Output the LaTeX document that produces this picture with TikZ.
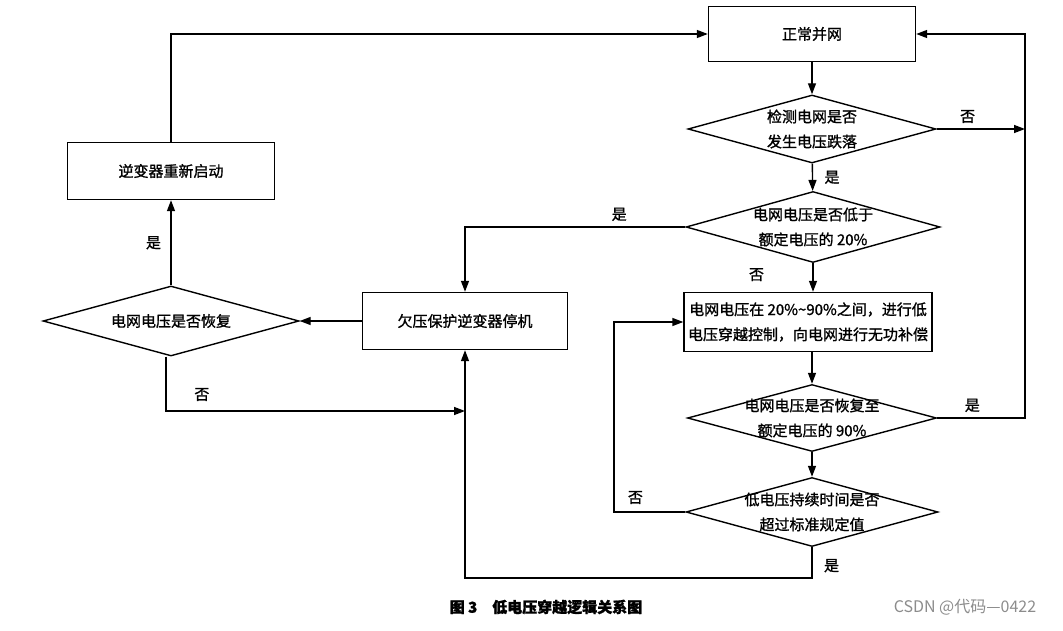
\documentclass[tikz,border=0pt]{standalone}
\usepackage{fontspec}
\newfontfamily\cjk[FakeBold=1.2]{Noto Sans CJK SC}
\usetikzlibrary{shapes.geometric,arrows.meta}

\begin{document}
\begin{tikzpicture}[x=1pt,y=-1pt,
    line width=1.4pt,
    >={Triangle[length=11pt,width=8pt]},
    txt/.style={font=\cjk\fontsize{15}{25}\selectfont, align=center},
    procbox/.style={draw, txt, inner sep=0pt},
    decision/.style={draw, diamond, inner sep=0pt},
    yn/.style={font=\cjk\fontsize{15}{18}\selectfont}]

  \useasboundingbox (0,0) rectangle (1063,631);

  % Right column
  \node[procbox, minimum width=207pt, minimum height=55pt] (ok) at (812,34) {正常并网};
  \node[decision, minimum width=248pt, minimum height=68pt,
        label={[txt]center:检测电网是否\\发生电压跌落}] (det) at (812,129) {};
  \node[decision, minimum width=254pt, minimum height=71pt,
        label={[txt]center:电网电压是否低于\\额定电压的 20\%}] (low) at (813,227) {};
  \node[procbox, minimum width=248pt, minimum height=59pt] (lvrt) at (808,322)
        {电网电压在 20\%\textasciitilde 90\%之间，进行低\\电压穿越控制，向电网进行无功补偿};
  \node[decision, minimum width=249pt, minimum height=67pt,
        label={[txt]center:电网电压是否恢复至\\额定电压的 90\%}] (back) at (812,418) {};
  \node[decision, minimum width=252pt, minimum height=69pt,
        label={[txt]center:低电压持续时间是否\\超过标准规定值}] (dur) at (812,512) {};

  % Left part
  \node[procbox, minimum width=205pt, minimum height=57pt] (stop) at (465,321) {欠压保护逆变器停机};
  \node[decision, minimum width=256pt, minimum height=70pt,
        label={[txt]center:电网电压是否恢复}] (rec) at (171,321) {};
  \node[procbox, minimum width=207pt, minimum height=57pt] (restart) at (171,171) {逆变器重新启动};

  % corner points
  \coordinate (rt) at (1025,34);
  \coordinate (rm) at (1025,129);
  \coordinate (rb) at (1025,418);
  \coordinate (lt) at (171,34);
  \coordinate (st) at (465,227);
  \coordinate (sb) at (465,578);
  \coordinate (db) at (812,578);
  \coordinate (ll) at (614,512);
  \coordinate (lu) at (614,322);
  \coordinate (rl) at (166,411);
  \coordinate (rr) at (465,411);

  % Main flow
  \draw[->] (ok) -- (det);
  \draw[->] (det) -- (low) node[yn, midway, right=8pt] {是};
  \draw[->] (low.south) -- (low.south |- lvrt.north) node[yn, pos=0.4, left=45pt] {否};
  \draw[->] (back.north |- lvrt.south) -- (back.north);
  \draw[->] (back) -- (dur);

  % Back to grid connection
  \draw[->] (det.east) -- (rm) node[yn, pos=0.35, above=2pt] {否};
  \draw[->] (back.east) -- (rb) node[yn, pos=0.4, above=2pt] {是} -- (rt) -- (ok.east);

  % Loop and shutdown
  \draw[->] (dur.west) -- (ll) node[yn, pos=0.7, above=4pt] {否} -- (lu) -- (lvrt.west);
  \draw[->] (dur.south) -- (db) node[yn, pos=0.6, right=8pt] {是} -- (sb) -- (stop.south);
  \draw[->] (low.west) -- (st) node[yn, pos=0.3, above=2pt] {是} -- (stop.north);

  % Restart branch
  \draw[->] (stop.west) -- (rec.east);
  \draw[->] (rec.north) -- (restart.south) node[yn, midway, left=6pt] {是};
  \draw[->] (rec.south -| rl) -- (rl) -- (rr) node[yn, pos=0.12, above=6pt] {否};
  \draw[->] (restart.north) -- (lt) -- (ok.west);

  % Caption
  \node[font=\cjk\bfseries\fontsize{15}{18}\selectfont] (cap) at (546,607) {图 3\quad 低电压穿越逻辑关系图};
  \node[font=\fontspec{Noto Sans CJK SC}\fontsize{16}{18}\selectfont, text=black!45] (mark) at (965,607) {CSDN @代码—0422};

\end{tikzpicture}
\end{document}
